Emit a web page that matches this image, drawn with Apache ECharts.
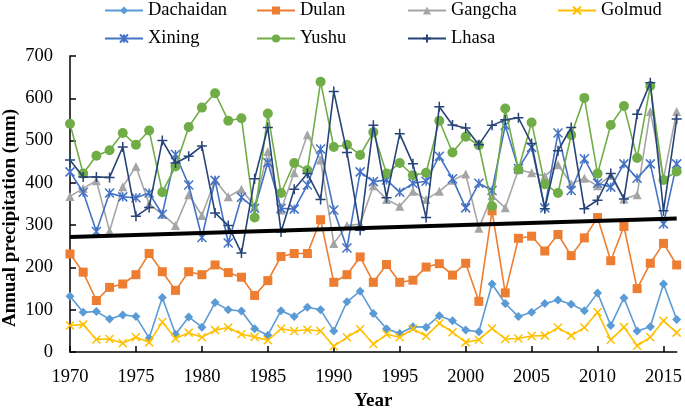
<!DOCTYPE html>
<html>
<head>
<meta charset="utf-8">
<script src="https://cdn.jsdelivr.net/npm/echarts@6/dist/echarts.min.js"></script>
<style>html,body{margin:0;padding:0;background:#fff}#c{width:685px;height:416px}</style>
</head>
<body>
<div id="c"></div>
<script>
const years = [];
for (let y = 1970; y <= 2016; y++) years.push(y);
const xTickLabels = [1970,1975,1980,1985,1990,1995,2000,2005,2010,2015];

const dachaidan = [132,94,96,78,88,84,33,129,42,83,59,117,100,97,55,40,98,84,106,100,50,119,144,91,55,44,60,59,86,74,52,48,161,115,84,94,115,123,113,98,140,63,128,50,60,161,77];
const dulan = [232,189,122,153,161,183,233,190,146,190,183,206,188,177,134,169,226,233,233,313,165,183,225,165,207,165,170,201,209,182,210,120,334,140,269,274,239,278,228,270,318,216,297,150,210,257,206];
const gangcha = [368,387,405,286,391,439,350,326,299,372,323,407,367,385,345,474,336,424,514,454,257,299,303,393,361,345,380,361,380,406,421,293,370,341,431,424,416,443,398,411,393,418,362,372,569,410,569];
const golmud = [63,65,30,31,21,35,23,71,32,46,35,52,58,42,36,28,55,50,53,50,14,35,54,19,42,35,55,38,68,47,23,29,56,31,32,38,39,58,39,58,94,29,59,15,35,74,46];
const xining = [426,378,285,376,367,365,376,326,467,395,271,406,258,366,340,448,340,338,395,480,336,246,426,403,407,378,399,404,463,410,341,399,382,536,434,484,341,518,382,457,399,390,445,411,445,303,445];
const yushu = [540,422,464,477,518,490,524,378,439,532,578,612,547,553,318,564,376,447,430,639,485,490,466,520,422,447,418,424,547,472,509,489,345,576,432,543,397,376,513,601,422,537,582,459,629,407,427];
const lhasa = [454,414,414,413,485,321,342,500,447,463,487,329,299,234,410,531,284,385,422,361,616,472,288,536,365,516,445,318,580,537,530,490,536,549,554,493,339,476,531,339,359,422,362,562,637,334,551];
const trendYears = [1970, 2016];
const trendValues = [272, 316];

const seriesNames = ['Dachaidan','Dulan','Gangcha','Golmud','Xining','Yushu','Lhasa'];
const seriesValues = [dachaidan, dulan, gangcha, golmud, xining, yushu, lhasa];
const colors = ['#5B9BD5','#ED7D31','#A5A5A5','#FFC000','#4472C4','#70AD47','#264478'];
const symbols = ['diamond','rect','triangle','path://M0,0L10,10M10,0L0,10','path://M0,0L10,10M10,0L0,10M5,0L5,10','circle','path://M0,5L10,5M5,0L5,10'];
const symbolSizes = [9,9,9,8,9,10,10];
const strokeSymbol = [false,false,false,true,true,false,true];

const FONT = 'Liberation Serif';
const series = seriesNames.map((n, i) => ({
  name: n,
  type: 'line',
  data: years.map((y, k) => [y, seriesValues[i][k]]),
  symbol: symbols[i],
  symbolSize: symbolSizes[i],
  showAllSymbol: true,
  lineStyle: { color: colors[i], width: 1.6 },
  itemStyle: strokeSymbol[i]
    ? { color: 'rgba(0,0,0,0)', borderColor: colors[i], borderWidth: 1.5 }
    : { color: colors[i], borderWidth: 0 },
  z: 2 + i
}));
series.push({
  name: 'trend',
  type: 'line',
  data: trendYears.map((y, k) => [y, trendValues[k]]),
  symbol: 'none',
  lineStyle: { color: '#000', width: 4 },
  z: 20
});

const legendLeft = [104, 256, 407, 557];
const legends = seriesNames.map((n, i) => ({
  data: [n],
  left: legendLeft[i % 4],
  top: i < 4 ? 1 : 29,
  padding: 0,
  itemWidth: 38,
  itemHeight: 10,
  textStyle: { fontFamily: FONT, fontSize: 18.5, color: '#000' }
}));

const chart = echarts.init(document.getElementById('c'), null, { renderer: 'canvas' });
chart.setOption({
  animation: false,
  backgroundColor: '#fff',
  color: colors,
  legend: legends,
  grid: { left: 70, right: 8, top: 56, bottom: 56, containLabel: false },
  graphic: [{
    type: 'text',
    x: 10, y: 218,
    rotation: Math.PI / 2,
    style: {
      text: 'Annual precipitation (mm)',
      fontFamily: FONT, fontSize: 19, fontWeight: 'bold', fill: '#000',
      align: 'center', verticalAlign: 'middle'
    }
  }],
  xAxis: {
    type: 'value', min: 1970, max: 2016, interval: 5,
    name: 'Year', nameLocation: 'middle', nameGap: 36,
    nameTextStyle: { fontFamily: FONT, fontSize: 19, fontWeight: 'bold', color: '#000' },
    axisLine: { show: true, onZero: false, lineStyle: { color: '#000', width: 1.5 } },
    axisTick: { show: true, inside: true, length: 6, customValues: xTickLabels, lineStyle: { color: '#000', width: 1.5 } },
    axisLabel: { customValues: xTickLabels, formatter: v => String(v), margin: 16, fontFamily: FONT, fontSize: 18.5, color: '#000' },
    splitLine: { show: false }
  },
  yAxis: {
    type: 'value', min: 0, max: 700, interval: 100,
    axisLine: { show: true, lineStyle: { color: '#000', width: 1.5 } },
    axisTick: { show: true, inside: true, length: 6, lineStyle: { color: '#000', width: 1.5 } },
    axisLabel: { margin: 17, fontFamily: FONT, fontSize: 18.5, color: '#000' },
    splitLine: { show: false }
  },
  series: series
});
</script>
</body>
</html>
